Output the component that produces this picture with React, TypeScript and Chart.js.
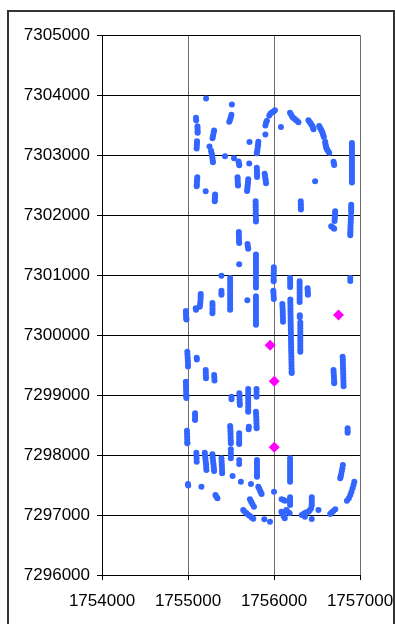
import React, { useEffect, useRef } from "react";
import { Chart, registerables } from "chart.js";

Chart.register(...registerables);

type P = { x: number; y: number };
const pts = (a: number[][]): P[] => a.map(([x, y]) => ({ x, y }));

const xTicks = [1754000, 1755000, 1756000, 1757000];
const yTicks = [7296000, 7297000, 7298000, 7299000, 7300000, 7301000, 7302000, 7303000, 7304000, 7305000];

const northPoints = [
  [1755210,7303940],[1755510,7303840],
  [1755505,7303670],[1755498,7303630],[1755490,7303590],[1755480,7303555],
  [1755093,7303620],[1755095,7303580],
  [1755110,7303480],[1755111,7303440],[1755112,7303400],[1755112,7303370],
  [1755105,7303230],[1755104,7303190],[1755102,7303150],[1755100,7303110],
  [1755303,7303410],[1755298,7303370],[1755291,7303320],[1755285,7303280],
  [1755250,7303140],[1755268,7303070],[1755275,7303030],[1755280,7302990],[1755284,7302950],[1755287,7302910],[1755290,7302880],
  [1755430,7302980],[1755535,7302945],[1755588,7302890],[1755592,7302860],[1755596,7302830],
  [1755712,7302860],[1755715,7303215],
  [1755818,7303220],[1755815,7303180],[1755812,7303140],[1755808,7303100],[1755804,7303060],[1755800,7303030],
  [1755900,7303340],
  [1755900,7303490],[1755908,7303540],[1755918,7303570],[1755945,7303660],[1755960,7303690],[1755980,7303711],[1755995,7303725],[1756011,7303744],
  [1756081,7303467],
  [1756186,7303706],[1756200,7303670],[1756214,7303633],[1756230,7303612],[1756245,7303594],[1756265,7303570],[1756284,7303544],
  [1756400,7303578],[1756412,7303555],[1756424,7303533],[1756436,7303505],[1756447,7303478],[1756455,7303450],[1756459,7303428],
  [1756525,7303483],[1756535,7303455],[1756545,7303428],[1756555,7303400],[1756564,7303372],[1756572,7303335],[1756580,7303300],
  [1756595,7303222],[1756598,7303185],[1756603,7303150],[1756608,7303120],[1756615,7303094],[1756628,7303065],[1756642,7303039],
  [1756692,7302889],[1756696,7302860],[1756700,7302833],
  [1756478,7302561],
  [1756906,7303200],[1756906,7303160],[1756906,7303120],[1756906,7303080],[1756906,7303040],[1756906,7303000],[1756906,7302960],[1756906,7302920],[1756906,7302880],[1756906,7302840],[1756906,7302800],[1756906,7302760],[1756906,7302720],[1756906,7302680],[1756906,7302640],[1756906,7302600],[1756906,7302560],[1756906,7302540],
  [1755108,7302630],[1755106,7302590],[1755104,7302550],[1755102,7302510],[1755101,7302480],
  [1755206,7302394],
  [1755315,7302340],[1755314,7302300],[1755312,7302260],[1755311,7302230],
  [1755576,7302630],[1755577,7302590],[1755578,7302550],[1755580,7302510],[1755582,7302490],
  [1755700,7302594],[1755698,7302550],[1755695,7302510],[1755692,7302470],[1755690,7302430],[1755687,7302400],
  [1755800,7302789],[1755801,7302750],[1755802,7302710],[1755803,7302670],[1755803,7302633],
  [1755891,7302689],[1755896,7302650],[1755900,7302610],[1755904,7302570],[1755907,7302530],
  [1755786,7302228],[1755787,7302180],[1755787,7302130],[1755788,7302080],[1755788,7302030],[1755789,7301980],[1755790,7301930],[1755790,7301890],
  [1756311,7302228],[1756312,7302180],[1756312,7302130],[1756313,7302090],
  [1756712,7302061],[1756710,7302020],[1756708,7301980],[1756706,7301940],[1756704,7301900],[1756665,7301811],[1756685,7301790],[1756700,7301772],
  [1756898,7302172],[1756898,7302130],[1756898,7302090],[1756897,7302050],[1756894,7301978],[1756893,7301930],[1756892,7301880],[1756890,7301830],[1756889,7301780],[1756888,7301730],[1756887,7301690],[1756887,7301661],
];

const middlePoints = [
  [1755591,7301717],[1755591,7301670],[1755592,7301620],[1755593,7301575],[1755595,7301533],
  [1755692,7301517],[1755696,7301475],[1755700,7301439],
  [1755595,7301180],
  [1755790,7301340],[1755790,7301290],[1755790,7301240],[1755790,7301190],[1755790,7301140],[1755790,7301090],[1755790,7301040],[1755790,7300990],[1755790,7300940],[1755790,7300890],[1755790,7300840],[1755790,7300790],
  [1755389,7300989],
  [1755998,7301128],[1755998,7301080],[1755997,7301030],[1755996,7300980],[1755996,7300930],[1755996,7300894],
  [1756187,7300950],[1756188,7300900],[1756188,7300850],[1756188,7300800],
  [1756298,7300896],[1756298,7300850],[1756298,7300800],[1756298,7300750],[1756298,7300700],[1756298,7300650],[1756298,7300600],[1756298,7300550],
  [1756300,7300330],[1756300,7300295],
  [1756306,7300210],[1756306,7300160],[1756306,7300110],[1756306,7300060],[1756306,7300010],[1756306,7299960],[1756306,7299910],[1756306,7299860],[1756306,7299810],[1756306,7299760],[1756306,7299720],
  [1756390,7300780],[1756392,7300740],[1756393,7300700],[1756394,7300672],
  [1756887,7300950],[1756887,7300900],
  [1755490,7300950],[1755490,7300900],[1755490,7300850],[1755490,7300800],[1755490,7300750],[1755490,7300700],[1755490,7300650],[1755490,7300600],[1755490,7300550],[1755490,7300500],[1755490,7300450],[1755490,7300420],
  [1755389,7300739],[1755389,7300700],[1755389,7300672],
  [1755148,7300683],[1755147,7300640],[1755146,7300590],[1755143,7300540],[1755140,7300500],[1755136,7300472],
  [1755284,7300533],[1755285,7300490],[1755285,7300440],[1755285,7300400],[1755284,7300361],
  [1755090,7300444],[1755093,7300420],
  [1754975,7300400],[1754976,7300360],[1754978,7300320],[1754980,7300280],[1754982,7300258],
  [1755690,7300580],
  [1755790,7300644],[1755790,7300600],[1755790,7300550],[1755790,7300500],[1755790,7300450],[1755790,7300400],[1755790,7300350],[1755790,7300300],[1755790,7300250],[1755790,7300200],[1755790,7300170],
  [1755992,7300739],[1755994,7300700],[1755996,7300650],[1755998,7300600],
  [1756097,7300517],[1756099,7300470],[1756101,7300420],[1756102,7300370],[1756103,7300320],[1756104,7300270],[1756105,7300222],
  [1756190,7300590],[1756190,7300540],[1756191,7300490],[1756191,7300440],[1756192,7300390],[1756192,7300340],[1756193,7300290],[1756193,7300240],[1756194,7300190],[1756195,7300140],[1756195,7300090],[1756196,7300040],[1756197,7299990],[1756197,7299940],[1756198,7299890],[1756199,7299840],[1756199,7299790],[1756200,7299740],[1756201,7299690],[1756202,7299640],[1756202,7299590],[1756203,7299540],[1756204,7299490],[1756204,7299440],[1756205,7299390],[1756206,7299365],
];

const lowerMiddlePoints = [
  [1754992,7299720],[1754994,7299670],[1754996,7299620],[1754998,7299570],[1755000,7299520],[1755000,7299475],
  [1755101,7299620],[1755103,7299590],
  [1755206,7299417],[1755207,7299370],[1755208,7299320],[1755209,7299280],
  [1755304,7299333],[1755306,7299290],[1755308,7299240],
  [1754975,7299220],[1754976,7299170],[1754977,7299120],[1754978,7299070],[1754979,7299020],[1754980,7298980],[1754981,7298950],
  [1755506,7298972],[1755506,7298930],
  [1755597,7299028],[1755599,7298980],[1755600,7298930],[1755601,7298880],[1755603,7298833],
  [1755700,7299100],[1755700,7299050],[1755700,7299000],[1755700,7298950],[1755700,7298900],[1755700,7298850],[1755700,7298800],[1755700,7298750],[1755700,7298722],
  [1755797,7299100],[1755797,7299050],[1755797,7299000],[1755797,7298972],
  [1756692,7299417],[1756694,7299370],[1756696,7299320],[1756698,7299270],[1756700,7299220],[1756700,7299194],
  [1756798,7299639],[1756800,7299590],[1756801,7299540],[1756802,7299490],[1756803,7299440],[1756804,7299390],[1756805,7299340],[1756806,7299290],[1756807,7299240],[1756808,7299190],[1756809,7299145],
];

const southPoints = [
  [1755082,7298694],[1755082,7298650],[1755082,7298600],[1755082,7298583],
  [1754988,7298406],[1754989,7298360],[1754990,7298310],[1754991,7298260],[1754992,7298210],[1754992,7298194],
  [1755790,7298722],[1755792,7298680],[1755794,7298630],[1755795,7298580],[1755796,7298530],[1755797,7298480],[1755798,7298444],
  [1755708,7298472],[1755705,7298430],
  [1755490,7298483],[1755492,7298440],[1755494,7298390],[1755495,7298340],[1755496,7298290],[1755497,7298240],[1755498,7298194],
  [1755595,7298361],[1755595,7298310],[1755595,7298260],[1755595,7298210],[1755595,7298183],
  [1755097,7298039],[1755098,7297990],[1755100,7297940],[1755101,7297889],
  [1755195,7298039],[1755198,7297990],[1755202,7297940],[1755206,7297890],[1755210,7297840],[1755212,7297790],[1755214,7297750],
  [1755284,7298011],[1755287,7297960],[1755291,7297910],[1755295,7297860],[1755299,7297810],[1755302,7297760],[1755304,7297733],
  [1755389,7297944],[1755391,7297890],[1755393,7297840],[1755395,7297790],[1755396,7297740],[1755397,7297694],
  [1755498,7298094],[1755498,7298040],[1755498,7297990],[1755498,7297944],
  [1755595,7297917],[1755595,7297850],
  [1755802,7297917],[1755802,7297870],[1755802,7297820],[1755802,7297770],[1755802,7297720],[1755802,7297670],[1755802,7297639],
  [1756187,7297944],[1756187,7297890],[1756187,7297840],[1756187,7297790],[1756187,7297740],[1756187,7297690],[1756187,7297640],[1756187,7297590],[1756187,7297556],
  [1755000,7297517],[1755002,7297490],
  [1755156,7297472],
  [1755319,7297333],[1755330,7297305],[1755342,7297278],
  [1755518,7297650],[1755615,7297556],[1755732,7297517],
  [1755817,7297472],[1755827,7297440],[1755837,7297410],[1755847,7297380],[1755856,7297350],
  [1756000,7297389],
  [1755720,7297261],[1755735,7297220],[1755750,7297180],[1755767,7297139],
  [1755642,7297083],[1755660,7297055],[1755681,7297028],[1755700,7297005],[1755720,7296983],[1755740,7296960],[1755759,7296939],
  [1755887,7296928],[1755953,7296889],
  [1756089,7297261],[1756110,7297250],[1756128,7297239],
  [1756187,7297294],[1756187,7297250],[1756187,7297210],[1756187,7297167],
  [1756143,7297083],[1756160,7297055],[1756182,7297028],
  [1756086,7297056],[1756100,7297020],[1756112,7296980],[1756125,7296944],
  [1756323,7297000],[1756345,7297020],[1756370,7297040],[1756401,7297056],[1756360,7296970],
  [1756439,7297294],[1756439,7297250],[1756439,7297200],[1756439,7297160],[1756430,7297110],[1756415,7297080],
  [1756517,7297083],
  [1756439,7296933],
  [1756653,7297017],[1756670,7297040],[1756690,7297065],[1756712,7297094],
  [1756801,7297833],[1756795,7297780],[1756788,7297730],[1756781,7297680],[1756775,7297640],[1756770,7297611],
  [1756856,7298444],[1756856,7298400],[1756856,7298372],
  [1756934,7297556],[1756925,7297500],[1756914,7297444],[1756900,7297385],[1756887,7297333],[1756870,7297280],[1756848,7297239],
];

const magentaPoints = [
  [1756750,7300335],[1755955,7299830],[1756003,7299230],[1756003,7298128],
];

const FONT = { family: "'Liberation Sans', Arial, sans-serif", size: 17 };

export default function App() {
  const ref = useRef<HTMLCanvasElement | null>(null);
  useEffect(() => {
    if (!ref.current) return;
    const chart = new Chart(ref.current, {
      type: "scatter",
      data: {
        datasets: [
          {
            label: "special",
            data: pts(magentaPoints),
            pointStyle: "rectRot",
            pointRadius: 5.5,
            backgroundColor: "#ff00ff",
            borderColor: "#ff00ff",
            borderWidth: 0,
          },
          {
            label: "samples",
            data: pts([...northPoints, ...middlePoints, ...lowerMiddlePoints, ...southPoints]),
            pointStyle: "circle",
            pointRadius: 3,
            backgroundColor: "#3366ff",
            borderColor: "#3366ff",
            borderWidth: 0,
          },
        ],
      },
      options: {
        animation: false,
        responsive: false,
        devicePixelRatio: 1,
        layout: { padding: { left: 0, top: 35, right: 35, bottom: 9 } },
        plugins: { legend: { display: false }, tooltip: { enabled: false } },
        scales: {
          x: {
            type: "linear",
            min: xTicks[0],
            max: xTicks[xTicks.length - 1],
            afterBuildTicks: (s: any) => { s.ticks = xTicks.map((v) => ({ value: v })); },
            afterFit: (s: any) => { s.height = 40; s.paddingLeft = 0; s.paddingRight = 0; },
            ticks: { color: "#000", font: FONT, padding: 11, maxRotation: 0, callback: (v: any) => String(v) },
            grid: { color: "#6e6e6e", lineWidth: 1, tickLength: 5, tickColor: "#000" },
            border: { display: true, color: "#000", width: 1 },
          },
          y: {
            type: "linear",
            min: yTicks[0],
            max: yTicks[yTicks.length - 1],
            afterBuildTicks: (s: any) => { s.ticks = yTicks.map((v) => ({ value: v })); },
            afterFit: (s: any) => { s.width = 102; s.paddingTop = 0; s.paddingBottom = 0; },
            ticks: { color: "#000", font: FONT, padding: 7, callback: (v: any) => String(v) },
            grid: { color: "#000", lineWidth: 1, tickLength: 5, tickColor: "#000" },
            border: { display: true, color: "#000", width: 1 },
          },
        },
      },
    });
    return () => chart.destroy();
  }, []);
  return (
    <div style={{ position: "absolute", left: 0, top: 0, width: 395, height: 624, overflow: "hidden", background: "#fff" }}>
      <div style={{ position: "absolute", left: 7, top: 10, width: 388, height: 620, border: "2px solid #333", boxSizing: "border-box" }} />
      <canvas ref={ref} width={395} height={624} style={{ position: "absolute", left: 0, top: 0 }} />
    </div>
  );
}
